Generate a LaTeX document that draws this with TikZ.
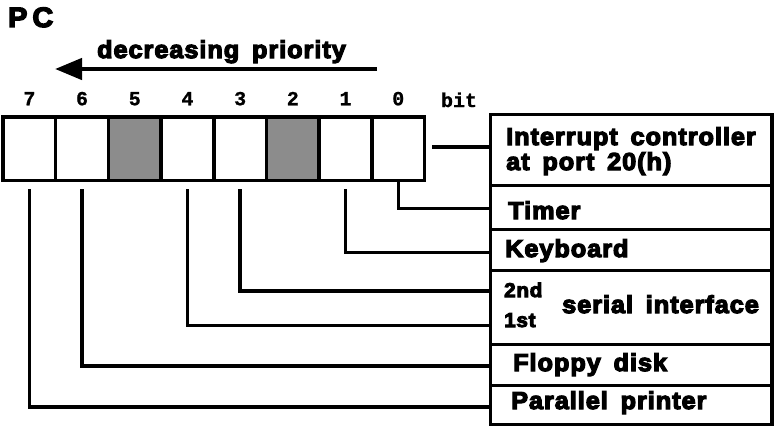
\documentclass[tikz,border=0pt]{standalone}
\usepackage{fontspec}
\newfontfamily\hv{Liberation Sans Bold}[FakeStretch=1.03,LetterSpace=4,WordSpace=1.6,FakeBold=5]
\newfontfamily\mono{Liberation Mono Bold}[FakeBold=1]
\usetikzlibrary{arrows.meta}
\begin{document}
\begin{tikzpicture}[x=1pt,y=-1pt,
  thickline/.style={line width=3.5pt},
  cell/.style={draw,line width=3.5pt,minimum width=52.7pt,minimum height=63.5pt,inner sep=0},
  shaded/.style={fill=black!45},
  rowbox/.style={draw,line width=3.5pt,minimum width=281.5pt,inner sep=0},
  lbl/.style={font=\hv\fontsize{24.5}{27}\selectfont,anchor=base west,inner sep=0},
  bitno/.style={font=\mono\fontsize{20}{22}\selectfont,anchor=base,inner sep=0}]
\useasboundingbox (0,0) rectangle (775,428);

% title
\node[lbl,font=\hv\fontsize{28}{30}\selectfont] (pc) at (8,27) {P\hspace{5pt}C};
\node[lbl,anchor=base] (prio) at (221.5,58) {decreasing priority};
\coordinate (pa) at (377,69);
\coordinate (pb) at (55,69);
\draw[line width=4.5pt,-{Triangle[length=27pt,width=21pt]}] (pa) -- (pb);

% register cells
\node[cell] (b7) at (29.35,148.75) {};
\node[cell] (b6) at (82.05,148.75) {};
\node[cell,shaded] (b5) at (134.75,148.75) {};
\node[cell] (b4) at (187.45,148.75) {};
\node[cell] (b3) at (240.15,148.75) {};
\node[cell,shaded] (b2) at (292.85,148.75) {};
\node[cell] (b1) at (345.55,148.75) {};
\node[cell] (b0) at (398.25,148.75) {};

% bit numbers
\foreach \b in {7,6,5,4,3,2,1,0}{
  \node[bitno] (n\b) at ([yshift=10pt]b\b.north) {\b};
}
\node[bitno] (nbit) at (459,107) {bit};

% right boxes
\node[rowbox,minimum height=71pt] (r1) at (631.25,150) {};
\node[rowbox,minimum height=44pt] (r2) at (631.25,207.5) {};
\node[rowbox,minimum height=41pt] (r3) at (631.25,250) {};
\node[rowbox,minimum height=74pt] (r4) at (631.25,307.5) {};
\node[rowbox,minimum height=41pt] (r5) at (631.25,365) {};
\node[rowbox,minimum height=39pt] (r6) at (631.25,405) {};

\node[lbl] (t1a) at (506,145) {Interrupt controller};
\node[lbl] (t1b) at (506,170) {at port 20(h)};
\node[lbl] (t2) at (508,219) {Timer};
\node[lbl] (t3) at (505,257) {Keyboard};
\node[lbl,font=\hv\fontsize{20}{22}\selectfont] (t4a) at (504,297) {2nd};
\node[lbl,font=\hv\fontsize{20}{22}\selectfont] (t4b) at (504,327) {1st};
\node[lbl] (t4c) at (562,313) {serial interface};
\node[lbl] (t5) at (513,371) {Floppy disk};
\node[lbl] (t6) at (511,409) {Parallel printer};

% connector end points on the boxes
\coordinate (k0) at (432,147);
\coordinate (e0) at (490.5,147);
\coordinate (e1) at (490.5,208.5);
\coordinate (e2) at (490.5,252.5);
\coordinate (e3) at (490.5,291);
\coordinate (e4) at (490.5,325.5);
\coordinate (e5) at (490.5,366);
\coordinate (e6) at (490.5,407);

\draw[thickline] (k0) -- (e0);
\draw[thickline] (b0.south) |- (e1);
\draw[thickline] ([yshift=-7pt]b1.south) |- (e2);
\draw[thickline] ([yshift=-7pt]b3.south) |- (e3);
\draw[thickline] ([yshift=-7pt]b4.south) |- (e4);
\draw[thickline] ([yshift=-7pt]b6.south) |- (e5);
\draw[thickline] ([yshift=-7pt]b7.south) |- (e6);
\end{tikzpicture}
\end{document}
